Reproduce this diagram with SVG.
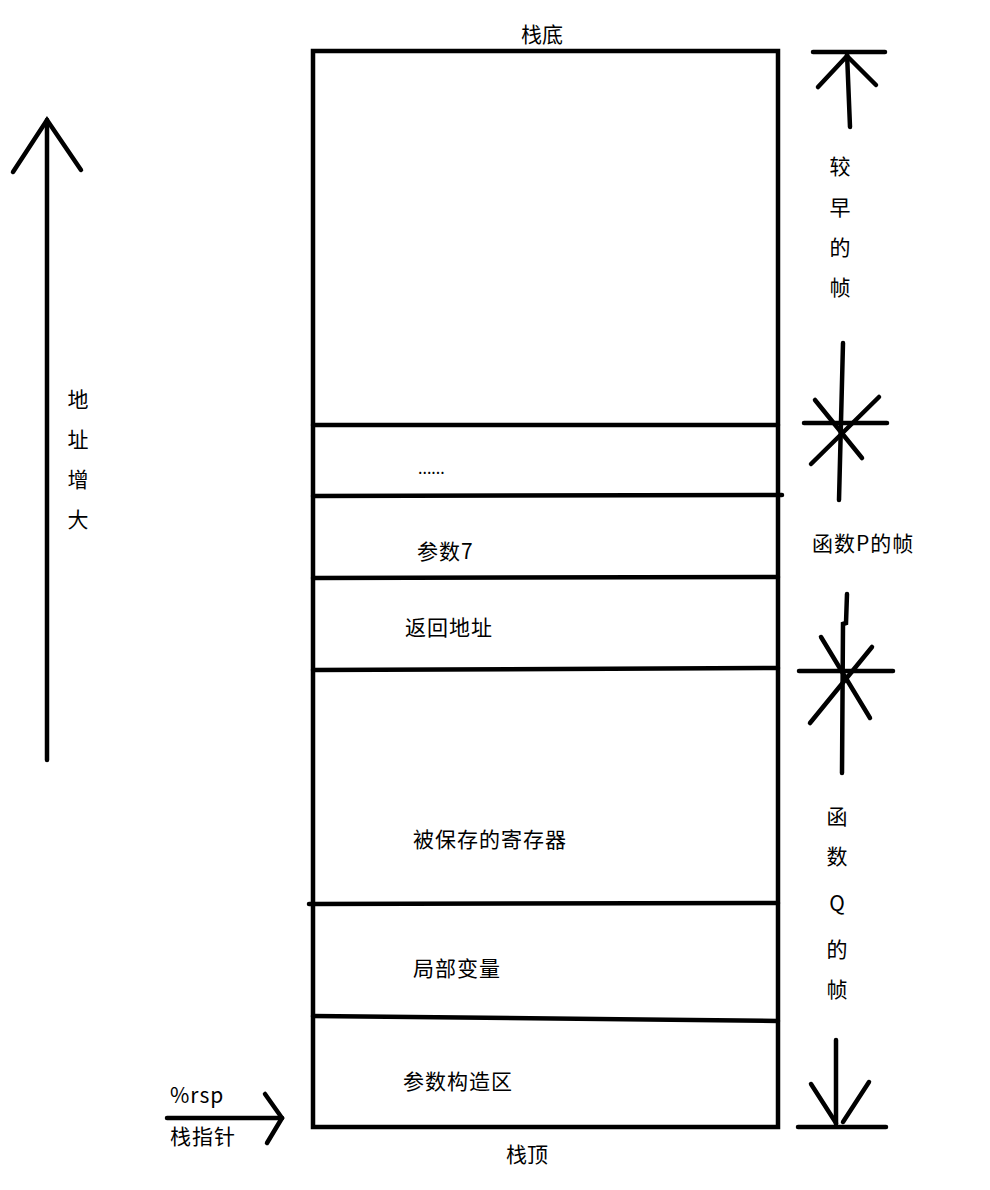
<svg xmlns="http://www.w3.org/2000/svg" width="990" height="1190" viewBox="0 0 990 1190">
<style>
.s{stroke:#000;stroke-width:4.5;stroke-linecap:round;fill:none}
.t{font-family:"Noto Sans CJK SC","Liberation Sans",sans-serif;font-size:21px;letter-spacing:1px;fill:#000}
.c{text-anchor:middle;letter-spacing:0}
</style>
<rect width="990" height="1190" fill="#fff"/>
<g id="stack">
<rect x="313" y="51" width="465" height="1076" class="s" stroke-linecap="butt"/>
<line x1="313" y1="425" x2="778" y2="425" class="s"/>
<line x1="313" y1="496" x2="782" y2="495" class="s"/>
<line x1="313" y1="578" x2="778" y2="577" class="s"/>
<line x1="313" y1="670" x2="778" y2="668" class="s"/>
<line x1="309" y1="904" x2="778" y2="903" class="s"/>
<line x1="313" y1="1016" x2="778" y2="1021" class="s"/>
<text x="542" y="42" class="t c">栈底</text>
<text x="527" y="1162" class="t c">栈顶</text>
</g>
<g id="cells">
<text x="418" y="474" class="t" style="font-size:16px;letter-spacing:0">......</text>
<text x="417" y="559" class="t">参数7</text>
<text x="405" y="635" class="t">返回地址</text>
<text x="413" y="847" class="t">被保存的寄存器</text>
<text x="413" y="976" class="t">局部变量</text>
<text x="403" y="1089" class="t">参数构造区</text>
</g>
<g id="address-arrow">
<line x1="47" y1="120" x2="47" y2="760" class="s"/>
<polyline points="13,172 47,120 81,170" class="s"/>
<text x="78" y="407" class="t c">地</text>
<text x="78" y="447" class="t c">址</text>
<text x="78" y="487" class="t c">增</text>
<text x="78" y="527" class="t c">大</text>
</g>
<g id="rsp">
<line x1="167" y1="1118" x2="282" y2="1118" class="s"/>
<polyline points="265,1094 282,1118 267,1143" class="s"/>
<text x="170" y="1103" class="t">%rsp</text>
<text x="170" y="1144" class="t">栈指针</text>
</g>
<g id="earlier-frame">
<line x1="813" y1="52" x2="885" y2="52" class="s"/>
<line x1="847" y1="53" x2="850" y2="127" class="s"/>
<line x1="847" y1="56" x2="818" y2="87" class="s"/>
<line x1="847" y1="56" x2="876" y2="85" class="s"/>
<text x="840" y="174" class="t c">较</text>
<text x="840" y="215" class="t c">早</text>
<text x="840" y="255" class="t c">的</text>
<text x="840" y="295" class="t c">帧</text>
</g>
<g id="frame-p">
<line x1="843" y1="343" x2="839" y2="500" class="s"/>
<line x1="804" y1="423" x2="887" y2="423" class="s"/>
<line x1="815" y1="400" x2="862" y2="458" class="s"/>
<line x1="879" y1="397" x2="811" y2="464" class="s"/>
<text x="812" y="551" class="t">函数P的帧</text>
</g>
<g id="frame-q">
<polyline points="847,594 846,623 843,624 842,773" class="s"/>
<line x1="799" y1="671" x2="893" y2="671" class="s"/>
<line x1="821" y1="637" x2="870" y2="718" class="s"/>
<line x1="872" y1="647" x2="810" y2="723" class="s"/>
<text x="837" y="824" class="t c">函</text>
<text x="837" y="864" class="t c">数</text>
<text x="837" y="911" class="t c">Q</text>
<text x="837" y="957" class="t c">的</text>
<text x="837" y="997" class="t c">帧</text>
<line x1="836" y1="1040" x2="836" y2="1124" class="s"/>
<line x1="798" y1="1127" x2="886" y2="1127" class="s"/>
<line x1="811" y1="1084" x2="836" y2="1123" class="s"/>
<line x1="869" y1="1082" x2="843" y2="1122" class="s"/>
</g>
</svg>
